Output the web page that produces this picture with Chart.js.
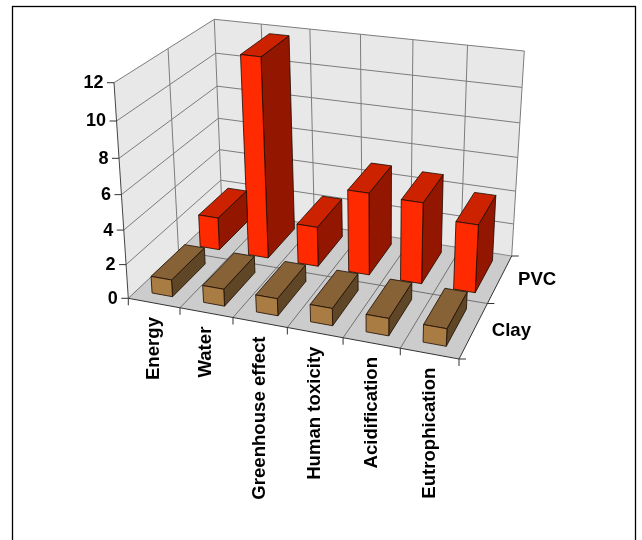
<!DOCTYPE html>
<html>
<head>
<meta charset="utf-8">
<style>
html, body { margin: 0; padding: 0; background: #fff; overflow: hidden; }
canvas { display: block; }
</style>
<script src="https://cdn.jsdelivr.net/npm/chart.js@4"></script>
</head>
<body>
<canvas id="chart" width="642" height="540"></canvas>
<script>
const categories = ["Energy", "Water", "Greenhouse effect", "Human toxicity", "Acidification", "Eutrophication"];
const seriesNames = ["Clay", "PVC"];
const clayValues = [1, 1, 1, 1, 1, 1];
const pvcValues = [2, 11.8, 2.4, 4.9, 4.8, 4];
const yTickStep = 2;
const yMax = 12;

// corners of the 3d box on screen, order: front left, front right, back right, back left
const floorQuad = [[128.3, 298.3], [459, 359], [511.7, 256], [222, 210]];
const roofQuad = [[114, 82.7], [469.4, 129.7], [524.3, 51], [214.3, 19.3]];
const heightWarp = 1.08;
const depthHalf = 0.17;
const labelFont = 'bold 18.6px "Liberation Sans"';
const tickFont = 'bold 18px "Liberation Sans"';

// unit square -> quad
function homography(q) {
    const [x0, y0] = q[0], [x1, y1] = q[1], [x2, y2] = q[2], [x3, y3] = q[3];
    const dx1 = x1 - x2, dx2 = x3 - x2, sx = x0 - x1 + x2 - x3;
    const dy1 = y1 - y2, dy2 = y3 - y2, sy = y0 - y1 + y2 - y3;
    const den = dx1 * dy2 - dx2 * dy1;
    const g = (sx * dy2 - dx2 * sy) / den;
    const h = (dx1 * sy - sx * dy1) / den;
    const a = x1 - x0 + g * x1, b = x3 - x0 + h * x3;
    const d = y1 - y0 + g * y1, e = y3 - y0 + h * y3;
    return (u, v) => {
        const w = g * u + h * v + 1;
        return [(a * u + b * v + x0) / w, (d * u + e * v + y0) / w];
    };
}

const floorMap = homography(floorQuad);
const roofMap = homography(roofQuad);

// u along categories, v along depth, t height, all 0..1
function project(u, v, t) {
    const p0 = floorMap(u, v), p1 = roofMap(u, v);
    const k = t / (t + (1 - t) * heightWarp);
    return [p0[0] + (p1[0] - p0[0]) * k, p0[1] + (p1[1] - p0[1]) * k];
}

function poly(ctx, pts, fill, stroke, lw) {
    ctx.beginPath();
    pts.forEach((p, i) => i ? ctx.lineTo(p[0], p[1]) : ctx.moveTo(p[0], p[1]));
    ctx.closePath();
    if (fill) { ctx.fillStyle = fill; ctx.fill(); }
    if (stroke) { ctx.strokeStyle = stroke; ctx.lineWidth = lw; ctx.stroke(); }
}

function line(ctx, a, b, color, lw) {
    ctx.beginPath();
    ctx.moveTo(a[0], a[1]);
    ctx.lineTo(b[0], b[1]);
    ctx.strokeStyle = color;
    ctx.lineWidth = lw;
    ctx.stroke();
}

const box3d = {
    id: "box3d",
    beforeDatasetsDraw(chart) {
        const ctx = chart.ctx;
        const yScale = chart.scales.y;
        const n = categories.length;
        const tOf = v => (yScale.getPixelForValue(0) - yScale.getPixelForValue(v)) / yScale.height;

        // frame
        ctx.strokeStyle = "#000";
        ctx.lineWidth = 1.3;
        ctx.strokeRect(12.5, 6.5, 623, 600);

        // walls and floor
        poly(ctx, [project(0, 0, 0), project(0, 1, 0), project(0, 1, 1), project(0, 0, 1)], "#e8e8e8");
        poly(ctx, [project(0, 1, 0), project(1, 1, 0), project(1, 1, 1), project(0, 1, 1)], "#e8e8e8");
        poly(ctx, [project(0, 0, 0), project(1, 0, 0), project(1, 1, 0), project(0, 1, 0)], "#cccccc");

        // grid
        const gridColor = "#7c7c7c";
        yScale.ticks.forEach(tick => {
            const t = tOf(tick.value);
            if (t > 0) {
                line(ctx, project(0, 0, t), project(0, 1, t), gridColor, 1);
                line(ctx, project(0, 1, t), project(1, 1, t), gridColor, 1);
            }
        });
        for (let i = 0; i <= n; i++) {
            line(ctx, project(i / n, 1, 0), project(i / n, 1, 1), gridColor, 1);
            if (i > 0 && i < n) line(ctx, project(i / n, 0, 0), project(i / n, 1, 0), "#666", 0.9);
        }
        line(ctx, project(0, 0.5, 0), project(0, 0.5, 1), gridColor, 1);
        line(ctx, project(0, 0.5, 0), project(1, 0.5, 0), "#666", 0.9);
        line(ctx, project(0, 1, 0), project(1, 1, 0), "#888", 1);

        // axes
        line(ctx, project(0, 0, 0), project(0, 0, 1), "#444", 1);
        line(ctx, project(0, 0, 0), project(1, 0, 0), "#333", 1);
        line(ctx, project(1, 0, 0), project(1, 1, 0), "#333", 1);
        line(ctx, project(0, 0, 0), project(0, 1, 0), "#666", 0.9);

        // bars, back row first
        const depthScale = chart.scales.depth;
        const faces = [
            { front: "#a97c43", top: "#866236", side: "#5f4626" },
            { front: "#ff2a00", top: "#cc2200", side: "#931600" }
        ];
        for (let s = seriesNames.length - 1; s >= 0; s--) {
            const els = chart.getDatasetMeta(s).data;
            const vc = (depthScale.getPixelForValue(s) - depthScale.left) / depthScale.width;
            const v0 = vc - depthHalf, v1 = vc + depthHalf;
            for (let i = els.length - 1; i >= 0; i--) {
                const el = els[i];
                const uc = (el.x - chart.chartArea.left) / chart.chartArea.width;
                const uh = el.width / 2 / chart.chartArea.width;
                const u0 = uc - uh, u1 = uc + uh;
                const t = (el.base - el.y) / yScale.height;
                const ink = "#1a0a00";
                poly(ctx, [project(u1, v0, 0), project(u1, v1, 0), project(u1, v1, t), project(u1, v0, t)], faces[s].side, ink, 0.8);
                poly(ctx, [project(u0, v0, t), project(u1, v0, t), project(u1, v1, t), project(u0, v1, t)], faces[s].top, ink, 0.8);
                poly(ctx, [project(u0, v0, 0), project(u1, v0, 0), project(u1, v0, t), project(u0, v0, t)], faces[s].front, ink, 0.8);
            }
        }

        // ticks and labels
        ctx.fillStyle = "#000";
        ctx.textBaseline = "middle";
        ctx.textAlign = "right";
        ctx.font = tickFont;
        yScale.ticks.forEach(tick => {
            const p = project(0, 0, tOf(tick.value));
            line(ctx, p, [p[0] - 7, p[1]], "#333", 1);
            ctx.fillText(tick.label, p[0] - 10.5, p[1] + 0.5);
        });
        for (let i = 0; i <= n; i++) {
            const p = project(i / n, 0, 0);
            line(ctx, p, [p[0], p[1] + 7], "#333", 1);
        }
        ctx.font = labelFont;
        chart.scales.x.getLabels().forEach((label, i) => {
            const p = project((i + 0.5) / n, 0, 0);
            ctx.save();
            ctx.translate(p[0], p[1] + 14);
            ctx.rotate(-Math.PI / 2);
            ctx.textAlign = "right";
            ctx.fillText(label, 0, 0);
            ctx.restore();
        });
        for (let s = 0; s <= seriesNames.length; s++) {
            const p = project(1, s / seriesNames.length, 0);
            line(ctx, p, [p[0] + 7, p[1]], "#333", 1);
        }
        depthScale.getLabels().forEach((label, s) => {
            const vc = (depthScale.getPixelForValue(s) - depthScale.left) / depthScale.width;
            const p = project(1, vc, 0);
            ctx.textAlign = "left";
            ctx.fillText(label, p[0] + 18, p[1] + 1);
        });

        // skip the default flat bars
        return false;
    }
};

new Chart(document.getElementById("chart"), {
    type: "bar",
    data: {
        labels: categories,
        datasets: [
            { label: seriesNames[0], data: clayValues, grouped: false, barPercentage: 0.4, categoryPercentage: 1 },
            { label: seriesNames[1], data: pvcValues, grouped: false, barPercentage: 0.4, categoryPercentage: 1 }
        ]
    },
    options: {
        responsive: false,
        animation: false,
        devicePixelRatio: 1,
        plugins: { legend: { display: false }, tooltip: { enabled: false } },
        scales: {
            x: { type: "category", offset: true, display: false },
            y: { min: 0, max: yMax, ticks: { stepSize: yTickStep }, display: false },
            depth: { type: "category", axis: "x", position: "bottom", labels: seriesNames, offset: true, display: false }
        }
    },
    plugins: [box3d]
});
</script>
</body>
</html>
